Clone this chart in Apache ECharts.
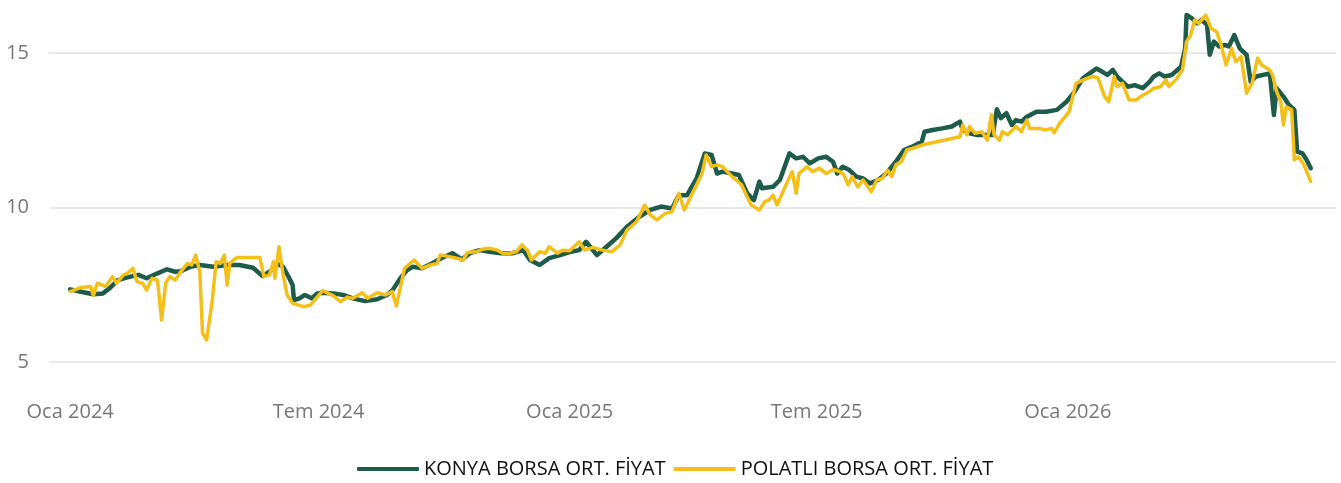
<!DOCTYPE html>
<html lang="tr">
<head>
<meta charset="utf-8">
<title>Konya ve Polatlı Borsa Ortalama Fiyat</title>
<script src="https://cdn.jsdelivr.net/npm/echarts@6/dist/echarts.min.js"></script>
<style>
  html, body { margin: 0; padding: 0; background: #ffffff; }
  #chart { width: 1341px; height: 483px; }
</style>
</head>
<body>
<div id="chart"></div>
<script>
// Konya borsa ortalama fiyatı (TL/kg)
const konyaDates = [
  '2024-01-01','2024-01-08','2024-01-18','2024-01-25','2024-01-30','2024-02-05','2024-02-12','2024-02-20','2024-02-26','2024-03-05',
  '2024-03-12','2024-03-18','2024-03-22','2024-03-29','2024-04-05','2024-04-15','2024-04-25','2024-05-04','2024-05-14','2024-05-21',
  '2024-05-26','2024-06-01','2024-06-05','2024-06-09','2024-06-12','2024-06-13','2024-06-17','2024-06-21','2024-06-26','2024-06-30',
  '2024-07-04','2024-07-12','2024-07-19','2024-07-26','2024-08-04','2024-08-13','2024-08-20','2024-08-24','2024-08-30','2024-09-04',
  '2024-09-08','2024-09-15','2024-09-22','2024-09-29','2024-10-07','2024-10-14','2024-10-20','2024-10-27','2024-11-03','2024-11-12',
  '2024-11-20','2024-11-28','2024-12-03','2024-12-10','2024-12-17','2024-12-25','2025-01-01','2025-01-08','2025-01-13','2025-01-21',
  '2025-01-28','2025-02-04','2025-02-12','2025-02-21','2025-03-01','2025-03-09','2025-03-17','2025-03-22','2025-03-28','2025-04-04',
  '2025-04-10','2025-04-15','2025-04-19','2025-04-23','2025-04-30','2025-05-05','2025-05-11','2025-05-16','2025-05-20','2025-05-22',
  '2025-05-30','2025-06-04','2025-06-11','2025-06-16','2025-06-21','2025-06-26','2025-07-02','2025-07-08','2025-07-13','2025-07-16',
  '2025-07-20','2025-07-25','2025-07-30','2025-08-04','2025-08-09','2025-08-15','2025-08-21','2025-08-28','2025-09-03','2025-09-09',
  '2025-09-16','2025-09-18','2025-09-24','2025-10-01','2025-10-08','2025-10-14','2025-10-16','2025-10-21','2025-10-26','2025-11-02',
  '2025-11-07','2025-11-10','2025-11-13','2025-11-17','2025-11-21','2025-11-24','2025-11-28','2025-12-02','2025-12-09','2025-12-16',
  '2025-12-24','2025-12-31','2026-01-06','2026-01-12','2026-01-17','2026-01-22','2026-01-26','2026-01-30','2026-02-03','2026-02-06',
  '2026-02-10','2026-02-14','2026-02-19','2026-02-25','2026-03-02','2026-03-05','2026-03-09','2026-03-13','2026-03-18','2026-03-21',
  '2026-03-25','2026-03-28','2026-03-29','2026-04-02','2026-04-06','2026-04-09','2026-04-13','2026-04-15','2026-04-18','2026-04-22',
  '2026-04-26','2026-04-29','2026-05-03','2026-05-07','2026-05-12','2026-05-15','2026-05-19','2026-05-29','2026-06-01','2026-06-03',
  '2026-06-08','2026-06-12','2026-06-16','2026-06-18','2026-06-22','2026-06-25','2026-06-28'
];
const konyaValues = [
  7.35, 7.28, 7.19, 7.22, 7.39, 7.65, 7.74, 7.82, 7.71, 7.87,
  8.00, 7.92, 7.94, 8.08, 8.14, 8.08, 8.14, 8.14, 8.05, 7.78,
  7.92, 8.17, 8.08, 7.76, 7.49, 7.00, 7.06, 7.17, 7.06, 7.22,
  7.24, 7.22, 7.17, 7.06, 6.97, 7.03, 7.17, 7.31, 7.71, 7.98,
  8.08, 8.03, 8.19, 8.36, 8.52, 8.32, 8.52, 8.62, 8.57, 8.52,
  8.52, 8.62, 8.30, 8.14, 8.36, 8.46, 8.56, 8.62, 8.89, 8.46,
  8.73, 9.00, 9.38, 9.70, 9.92, 10.03, 9.97, 10.40, 10.40, 10.94,
  11.75, 11.70, 11.10, 11.16, 11.10, 11.05, 10.46, 10.24, 10.84, 10.62,
  10.67, 10.89, 11.75, 11.59, 11.64, 11.43, 11.59, 11.64, 11.48, 11.10,
  11.32, 11.21, 11.00, 10.94, 10.78, 10.89, 11.10, 11.48, 11.86, 11.97,
  12.13, 12.45, 12.51, 12.56, 12.62, 12.78, 12.51, 12.40, 12.35, 12.35,
  12.35, 13.18, 12.89, 13.05, 12.67, 12.83, 12.78, 12.94, 13.10, 13.10,
  13.16, 13.42, 13.75, 14.18, 14.34, 14.50, 14.40, 14.29, 14.45, 14.24,
  14.07, 13.91, 13.96, 13.86, 14.07, 14.24, 14.34, 14.24, 14.29, 14.40,
  14.56, 15.15, 16.23, 16.12, 15.96, 16.07, 15.91, 14.94, 15.37, 15.21,
  15.26, 15.21, 15.58, 15.15, 14.94, 14.07, 14.24, 14.34, 12.99, 13.86,
  13.59, 13.32, 13.16, 11.81, 11.75, 11.54, 11.27
];

// Polatlı borsa ortalama fiyatı (TL/kg)
const polatliDates = [
  '2024-01-01','2024-01-08','2024-01-16','2024-01-18','2024-01-21','2024-01-27','2024-02-01','2024-02-04','2024-02-09','2024-02-12',
  '2024-02-16','2024-02-19','2024-02-23','2024-02-26','2024-03-01','2024-03-05','2024-03-08','2024-03-11','2024-03-14','2024-03-18',
  '2024-03-22','2024-03-27','2024-03-30','2024-04-02','2024-04-05','2024-04-07','2024-04-10','2024-04-14','2024-04-17','2024-04-20',
  '2024-04-23','2024-04-25','2024-04-27','2024-05-02','2024-05-19','2024-05-22','2024-05-26','2024-05-29','2024-05-30','2024-06-02',
  '2024-06-05','2024-06-08','2024-06-12','2024-06-20','2024-06-25','2024-07-04','2024-07-12','2024-07-17','2024-07-22','2024-07-26',
  '2024-08-02','2024-08-06','2024-08-13','2024-08-19','2024-08-24','2024-08-27','2024-09-02','2024-09-09','2024-09-15','2024-09-21',
  '2024-09-26','2024-09-28','2024-10-05','2024-10-10','2024-10-15','2024-10-18','2024-10-25','2024-10-29','2024-11-03','2024-11-09',
  '2024-11-13','2024-11-18','2024-11-23','2024-11-27','2024-12-01','2024-12-04','2024-12-10','2024-12-14','2024-12-17','2024-12-23',
  '2024-12-27','2025-01-01','2025-01-08','2025-01-12','2025-01-18','2025-01-25','2025-02-01','2025-02-07','2025-02-12','2025-02-19',
  '2025-02-25','2025-03-01','2025-03-06','2025-03-12','2025-03-17','2025-03-22','2025-03-26','2025-04-01','2025-04-08','2025-04-11',
  '2025-04-15','2025-04-19','2025-04-23','2025-04-30','2025-05-03','2025-05-07','2025-05-11','2025-05-14','2025-05-20','2025-05-24',
  '2025-05-27','2025-05-30','2025-06-02','2025-06-09','2025-06-13','2025-06-16','2025-06-18','2025-06-24','2025-06-28','2025-07-03',
  '2025-07-08','2025-07-13','2025-07-18','2025-07-21','2025-07-24','2025-07-27','2025-07-31','2025-08-04','2025-08-07','2025-08-10',
  '2025-08-14','2025-08-18','2025-08-22','2025-08-25','2025-08-28','2025-09-01','2025-09-05','2025-09-09','2025-09-16','2025-10-14',
  '2025-10-16','2025-10-19','2025-10-21','2025-10-25','2025-10-30','2025-11-03','2025-11-06','2025-11-08','2025-11-12','2025-11-14',
  '2025-11-18','2025-11-24','2025-11-28','2025-12-02','2025-12-04','2025-12-11','2025-12-16','2025-12-20','2025-12-22','2025-12-26',
  '2025-12-31','2026-01-02','2026-01-07','2026-01-15','2026-01-19','2026-01-23','2026-01-28','2026-01-31','2026-02-04','2026-02-06',
  '2026-02-10','2026-02-15','2026-02-20','2026-02-25','2026-02-28','2026-03-05','2026-03-10','2026-03-14','2026-03-16','2026-03-21',
  '2026-03-26','2026-03-29','2026-04-01','2026-04-04','2026-04-07','2026-04-12','2026-04-16','2026-04-20','2026-04-23','2026-04-27',
  '2026-05-01','2026-05-04','2026-05-08','2026-05-12','2026-05-16','2026-05-20','2026-05-23','2026-05-29','2026-05-31','2026-06-03',
  '2026-06-06','2026-06-08','2026-06-10','2026-06-14','2026-06-16','2026-06-19','2026-06-23','2026-06-28'
];
const polatliValues = [
  7.28, 7.40, 7.44, 7.15, 7.55, 7.44, 7.76, 7.55, 7.82, 7.87,
  8.03, 7.60, 7.55, 7.33, 7.71, 7.65, 6.36, 7.55, 7.76, 7.65,
  7.92, 8.19, 8.14, 8.46, 7.92, 5.93, 5.71, 6.95, 8.25, 8.19,
  8.46, 7.49, 8.19, 8.38, 8.38, 7.76, 7.82, 8.25, 7.71, 8.73,
  7.82, 7.17, 6.90, 6.79, 6.84, 7.31, 7.14, 6.95, 7.10, 7.06,
  7.24, 7.06, 7.24, 7.17, 7.28, 6.81, 8.03, 8.30, 8.03, 8.14,
  8.19, 8.46, 8.41, 8.36, 8.30, 8.54, 8.57, 8.65, 8.68, 8.62,
  8.52, 8.52, 8.57, 8.79, 8.62, 8.30, 8.57, 8.52, 8.73, 8.52,
  8.62, 8.60, 8.89, 8.62, 8.71, 8.62, 8.57, 8.79, 9.27, 9.54,
  10.08, 9.76, 9.60, 9.81, 9.86, 10.46, 9.92, 10.46, 11.10, 11.70,
  11.32, 11.38, 11.32, 11.00, 10.89, 10.73, 10.35, 10.08, 9.92, 10.19,
  10.24, 10.40, 10.08, 10.78, 11.16, 10.46, 11.10, 11.32, 11.16, 11.27,
  11.10, 11.23, 11.16, 11.05, 10.73, 11.00, 10.67, 10.89, 10.70, 10.51,
  10.89, 10.94, 11.21, 11.00, 11.38, 11.48, 11.86, 11.91, 12.02, 12.29,
  12.67, 12.35, 12.62, 12.40, 12.45, 12.18, 13.00, 12.35, 12.18, 12.45,
  12.35, 12.62, 12.45, 12.83, 12.56, 12.56, 12.51, 12.56, 12.42, 12.72,
  12.99, 13.10, 14.02, 14.18, 14.24, 14.20, 13.59, 13.42, 14.24, 13.91,
  14.02, 13.48, 13.48, 13.64, 13.70, 13.86, 13.91, 14.13, 13.91, 14.13,
  14.45, 15.37, 15.58, 16.07, 15.96, 16.23, 15.80, 15.69, 15.31, 14.61,
  15.15, 14.72, 14.88, 13.70, 14.02, 14.83, 14.61, 14.45, 14.29, 13.75,
  13.42, 12.67, 13.26, 13.16, 11.54, 11.64, 11.38, 10.84
];

const seriesNames = ['KONYA BORSA ORT. FİYAT', 'POLATLI BORSA ORT. FİYAT'];
const monthNames = ['Oca','Şub','Mar','Nis','May','Haz','Tem','Ağu','Eyl','Eki','Kas','Ara'];
const yTicks = [5, 10, 15];

const zip = (dates, values) => dates.map((d, i) => [d, values[i]]);

const FONT = '"Open Sans", "Noto Sans", sans-serif';

const xMin = new Date(2023, 11, 16, 12).getTime();
const xMax = new Date(2026, 6, 16, 12).getTime();
// half-year labels too close to the right edge are left out
const labelLimit = xMax - 30 * 24 * 3600 * 1000;

const chart = echarts.init(document.getElementById('chart'), null, { renderer: 'canvas' });

chart.setOption({
  animation: false,
  backgroundColor: '#ffffff',
  textStyle: { fontFamily: FONT },
  grid: {
    left: 49,
    right: 5,
    top: 6.65,
    bottom: 121,
    containLabel: false,
    outerBoundsMode: 'none'
  },
  legend: {
    data: seriesNames,
    left: 357,
    top: 459,
    padding: 0,
    icon: 'roundRect',
    itemWidth: 62,
    itemHeight: 4,
    itemGap: 8,
    textStyle: { fontFamily: FONT, fontSize: 20, color: '#111111' }
  },
  xAxis: {
    type: 'time',
    min: xMin,
    max: xMax,
    axisLine: { show: false },
    axisTick: { show: false },
    splitLine: { show: false },
    axisLabel: {
      margin: 40,
      fontSize: 20,
      fontFamily: FONT,
      color: '#777777',
      showMinLabel: false,
      showMaxLabel: false,
      hideOverlap: false,
      formatter: function (value) {
        const d = new Date(value);
        const m = d.getMonth();
        if (value > labelLimit) return '';
        if (d.getDate() !== 1 || d.getHours() !== 0 || (m !== 0 && m !== 6)) return '';
        return monthNames[m] + ' ' + d.getFullYear();
      }
    }
  },
  yAxis: {
    type: 'value',
    min: yTicks[0],
    max: 16.5,
    interval: yTicks[1] - yTicks[0],
    axisLine: { show: false },
    axisTick: { show: false },
    splitLine: {
      show: true,
      showMaxLine: false,
      lineStyle: { color: '#e9e9e9', width: 2 }
    },
    axisLabel: {
      margin: 20,
      fontSize: 20,
      fontFamily: FONT,
      color: '#777777',
      showMaxLabel: false,
      formatter: function (v) { return yTicks.indexOf(v) >= 0 ? String(v) : ''; }
    }
  },
  series: [
    {
      name: seriesNames[0],
      type: 'line',
      data: zip(konyaDates, konyaValues),
      showSymbol: false,
      symbol: 'none',
      color: '#1F5B4B',
      lineStyle: { color: '#1F5B4B', width: 4.5, cap: 'round', join: 'round' },
      z: 2
    },
    {
      name: seriesNames[1],
      type: 'line',
      data: zip(polatliDates, polatliValues),
      showSymbol: false,
      symbol: 'none',
      color: '#F5BF19',
      lineStyle: { color: '#F5BF19', width: 3.5, cap: 'round', join: 'round' },
      z: 3
    }
  ]
});
</script>
</body>
</html>
